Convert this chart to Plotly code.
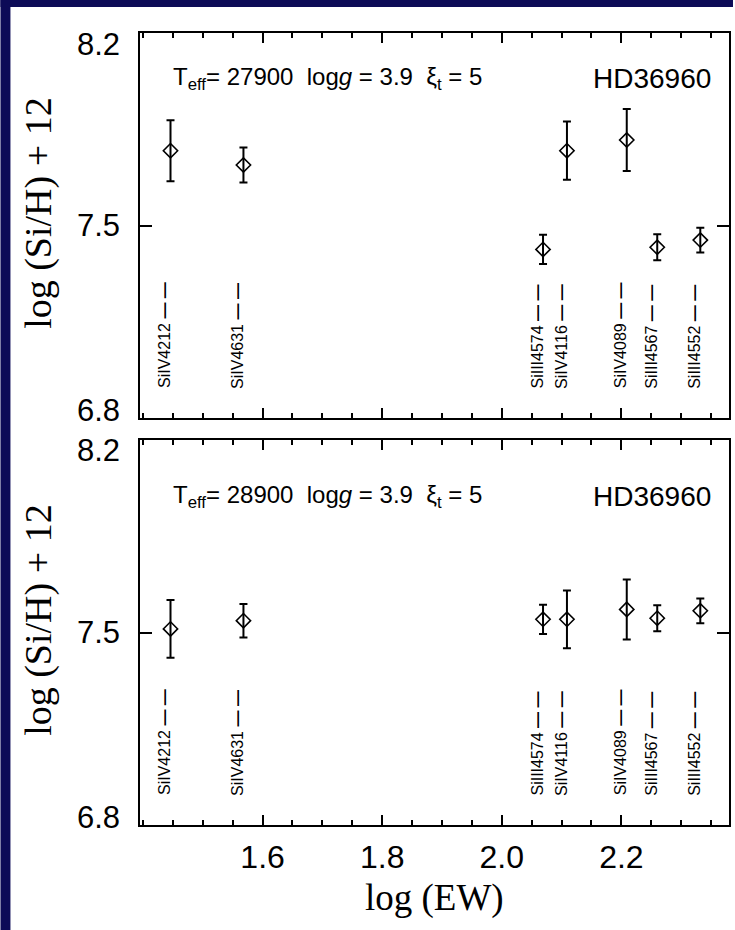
import plotly.graph_objects as go

# ---------------- data ----------------
lines = ["SiIV4212", "SiIV4631", "SiIII4574", "SiIV4116", "SiIV4089", "SiIII4567", "SiIII4552"]
log_ew = [1.446, 1.568, 2.069, 2.109, 2.209, 2.260, 2.332]

abund_27900 = [7.772, 7.720, 7.413, 7.772, 7.811, 7.421, 7.447]
err_27900 = [0.111, 0.064, 0.053, 0.106, 0.113, 0.047, 0.045]

abund_28900 = [7.513, 7.543, 7.548, 7.548, 7.584, 7.552, 7.579]
err_28900 = [0.105, 0.061, 0.053, 0.105, 0.109, 0.047, 0.045]

x_ticks = [1.6, 1.8, 2.0, 2.2]
y_ticks = [6.8, 7.5, 8.2]
panel_labels = ["T<sub>eff</sub>= 27900\u00a0\u00a0log<i>g</i> = 3.9\u00a0\u00a0ξ<sub>t</sub> = 5",
                "T<sub>eff</sub>= 28900\u00a0\u00a0log<i>g</i> = 3.9\u00a0\u00a0ξ<sub>t</sub> = 5"]
star = "HD36960"
line_label_y = 6.9

# ---------------- figure ----------------
W, H = 735, 930
ML, MR, MT, MB = 140, 4, 33, 105
PW, PH = W - ML - MR, H - MT - MB

def py(p):  # pixel row -> paper y
    return (H - MB - p) / PH

def px(p):  # pixel col -> paper x
    return (p - ML) / PW

fig = go.Figure()

sans = "Liberation Sans, Arial, sans-serif"
serif = "Liberation Serif, Times New Roman, serif"

for k, (vals, errs) in enumerate([(abund_27900, err_27900), (abund_28900, err_28900)]):
    ax = "" if k == 0 else "2"
    fig.add_trace(go.Scatter(
        x=log_ew, y=vals, mode="markers",
        marker=dict(symbol="diamond-open", size=11, color="black", line=dict(width=1.6, color="black")),
        error_y=dict(type="data", array=errs, visible=True, color="black", thickness=2, width=4),
        xaxis="x" + ax, yaxis="y" + ax, showlegend=False, hoverinfo="skip",
    ))

axis_common = dict(
    showline=True, linewidth=2, linecolor="black", mirror="allticks",
    ticks="inside", tickcolor="black", tickwidth=2,
    showgrid=False, zeroline=False,
)

top_dom = [py(418), 1.0]
bot_dom = [0.0, py(440)]

fig.update_layout(
    width=W, height=H,
    margin=dict(l=ML, r=MR, t=MT, b=MB),
    paper_bgcolor="white", plot_bgcolor="white",
    showlegend=False,
    xaxis=dict(**axis_common, domain=[0, 1], range=[1.395, 2.38], anchor="y",
               tickvals=x_ticks, ticklen=10, showticklabels=False,
               minor=dict(dtick=0.05, tick0=1.4, ticks="inside", ticklen=5, tickwidth=2, tickcolor="black")),
    yaxis=dict(**axis_common, domain=top_dom, range=[6.8, 8.2], anchor="x",
               tickvals=y_ticks, ticklen=12, showticklabels=False),
    xaxis2=dict(**axis_common, domain=[0, 1], range=[1.395, 2.38], anchor="y2",
                tickvals=x_ticks, ticklen=10, showticklabels=True, tickformat=".1f",
                ticklabelstandoff=3,
                tickfont=dict(family=sans, size=32, color="black"),
                minor=dict(dtick=0.05, tick0=1.4, ticks="inside", ticklen=5, tickwidth=2, tickcolor="black")),
    yaxis2=dict(**axis_common, domain=bot_dom, range=[6.8, 8.2], anchor="x2",
                tickvals=y_ticks, ticklen=12, showticklabels=False),
)

ann = []
# y tick labels (via the y axes)
shifts = {8.2: -11, 7.5: 0, 6.8: 8}
for yref in ["y", "y2"]:
    for v in y_ticks:
        ann.append(dict(x=0, xref="paper", xanchor="right", xshift=-18,
                        y=v, yref=yref, yanchor="middle", yshift=shifts[v],
                        text=f"{v:.1f}", showarrow=False,
                        font=dict(family=sans, size=31, color="black")))
# line-identification labels
for k, (xr, yr) in enumerate([("x", "y"), ("x2", "y2")]):
    for name, xv in zip(lines, log_ew):
        ann.append(dict(x=xv, xref=xr, y=line_label_y, yref=yr,
                        xanchor="center", yanchor="bottom", xshift=-6,
                        textangle=-90, text=name + " <b>\u2014 \u2014</b>", showarrow=False,
                        font=dict(family=sans, size=16, color="black")))
    ann.append(dict(x=1.447, xref=xr, y=8.036 if k == 0 else 7.993, yref=yr,
                    xanchor="left", yanchor="middle", text=panel_labels[k], showarrow=False,
                    font=dict(family=sans, size=24, color="black")))
    ann.append(dict(x=2.353, xref=xr, y=8.036 if k == 0 else 7.993, yref=yr,
                    xanchor="right", yanchor="middle", text=star, showarrow=False,
                    font=dict(family=sans, size=28, color="black")))
# axis titles
for yd in ["y domain", "y2 domain"]:
    ann.append(dict(x=px(38), xref="paper", xanchor="center", y=0.5, yref=yd, yanchor="middle",
                    yshift=13, textangle=-90, text="log (Si/H) + 12", showarrow=False,
                    font=dict(family=serif, size=38, color="black")))
ann.append(dict(x=0.5, xref="paper", y=py(898), yref="paper", xanchor="center", yanchor="middle",
                text="log (EW)", showarrow=False, font=dict(family=serif, size=37, color="black")))
fig.update_layout(annotations=ann)

# slide frame (dark blue bands at top and left)
navy = "#0d0b57"
fig.add_shape(type="rect", xref="paper", yref="paper", x0=px(0), x1=px(10), y0=py(930), y1=py(0),
              fillcolor=navy, line_width=0, layer="below")
fig.add_shape(type="rect", xref="paper", yref="paper", x0=px(0), x1=px(735), y0=py(7), y1=py(0),
              fillcolor=navy, line_width=0, layer="below")

fig.write_html("out.html",
               config={"displayModeBar": False, "staticPlot": True},
               post_script="document.body.style.margin='0';document.body.style.overflow='hidden';")
